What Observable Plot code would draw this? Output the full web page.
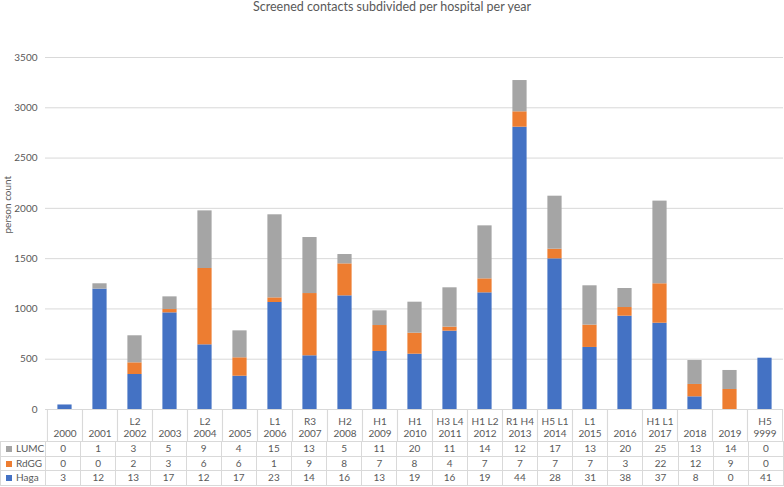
<!DOCTYPE html>
<html>
<head>
<meta charset="utf-8">
<script src="https://cdn.jsdelivr.net/npm/d3@7"></script>
<script src="https://cdn.jsdelivr.net/npm/@observablehq/plot@0.6"></script>
<style>
  html, body { margin: 0; padding: 0; background: #fff; }
  #wrap { position: relative; width: 784px; height: 487px; overflow: hidden; font-family: Lato, "Open Sans", sans-serif; color: #595959; }
  #title { height: 26px; font-size: 12.5px; line-height: 14px; text-align: center; position: relative; top: 0; }
  #chart { position: absolute; left: 0; top: 26px; }
  #tbl { position: absolute; left: 0; top: 441px; }
  table { border-collapse: collapse; table-layout: fixed; width: 783px; font-size: 10px; color: #595959; }
  td { border: 1px solid #d9d9d9; padding: 0; height: 13.6px; line-height: 13px; text-align: center; white-space: nowrap; overflow: hidden; }
  td.leg { text-align: left; padding-left: 5px; }
  .sq { display: inline-block; width: 6px; height: 6px; margin-right: 4px; vertical-align: 0px; }
</style>
</head>
<body>
<div id="wrap">
  <div id="title"></div>
  <div id="chart"></div>
  <div id="tbl"></div>
</div>
<script>
const titleText = "Screened contacts subdivided per hospital per year";
const yLabel = "person count";
const years = ["2000","2001","2002","2003","2004","2005","2006","2007","2008","2009","2010","2011","2012","2013","2014","2015","2016","2017","2018","2019","9999"];
const codes = ["","","L2","","L2","","L1","R3","H2","H1","H1","H3 L4","H1 L2","R1 H4","H5 L1","L1","","H1 L1","","","H5"];
const hospitals = ["Haga","RdGG","LUMC"];
const colors = ["#4472C4","#ED7D31","#A5A5A5"];
// person counts (bar segments)
const hagaCount = [45,1197,348,961,643,331,1064,534,1130,577,550,779,1160,2807,1498,617,928,858,126,0,510];
const rdggCount = [0,0,116,33,759,183,46,619,318,258,209,40,139,153,96,222,86,392,123,199,0];
const lumcCount = [0,53,269,126,573,268,826,557,93,146,308,391,527,311,527,391,189,822,238,189,0];
// data table values
const tableLUMC = [0,1,3,5,9,4,15,13,5,11,20,11,14,12,17,13,20,25,13,14,0];
const tableRdGG = [0,0,2,3,6,6,1,9,8,7,8,4,7,7,7,7,3,22,12,9,0];
const tableHaga = [3,12,13,17,12,17,23,14,16,13,19,16,19,44,28,31,38,37,8,0,41];
const yTicks = [0,500,1000,1500,2000,2500,3000,3500];

document.getElementById("title").textContent = titleText;

const series = {Haga: hagaCount, RdGG: rdggCount, LUMC: lumcCount};
const rows = [];
years.forEach((y, i) => hospitals.forEach(h => rows.push({year: y, hospital: h, value: series[h][i]})));

const W = 784, mL = 45, mR = 1;
const bw = (W - mL - mR) / years.length;
const label = new Map(years.map((y, i) => [y, (codes[i] || "") + "\n" + y]));
const gridC = "#d9d9d9";

const chart = Plot.plot({
  width: W, height: 415,
  marginTop: 31, marginBottom: 32, marginLeft: mL, marginRight: mR,
  style: {fontFamily: "Lato, 'Open Sans', sans-serif", fontSize: "10px", color: "#595959", background: "white", overflow: "visible"},
  x: {domain: years, padding: 0, label: null},
  y: {domain: [0, 3500], label: null},
  color: {domain: hospitals, range: colors},
  marks: [
    Plot.gridY(yTicks, {stroke: gridC, strokeOpacity: 1}),
    Plot.axisY(yTicks, {tickSize: 0, tickPadding: 8, label: null, fill: "#595959", tickFormat: d => String(d)}),
    Plot.barY(rows, {x: "year", y: "value", fill: "hospital", insetLeft: 10.4, insetRight: 10.4}),
    Plot.ruleY([0], {stroke: gridC, strokeOpacity: 1}),
    Plot.axisX({tickSize: 0, tickPadding: 6, lineHeight: 1.27, label: null, tickFormat: d => label.get(d), fill: "#595959"}),
    Plot.axisX({tickSize: 32, tickFormat: () => "", dx: -bw / 2, stroke: gridC, strokeOpacity: 1, label: null}),
    Plot.axisX({tickSize: 32, tickFormat: () => "", dx: bw / 2, stroke: gridC, strokeOpacity: 1, label: null}),
    Plot.text([yLabel], {frameAnchor: "left", dx: -38, rotate: -90, fill: "#595959", fontSize: 10})
  ]
});
document.getElementById("chart").appendChild(chart);

// data table below the axis
const table = document.createElement("table");
const cg = document.createElement("colgroup");
const c0 = document.createElement("col"); c0.style.width = mL + "px"; cg.appendChild(c0);
years.forEach(() => { const c = document.createElement("col"); c.style.width = bw + "px"; cg.appendChild(c); });
table.appendChild(cg);
const tableRows = [["LUMC", tableLUMC, colors[2]], ["RdGG", tableRdGG, colors[1]], ["Haga", tableHaga, colors[0]]];
tableRows.forEach(([name, vals, col]) => {
  const tr = document.createElement("tr");
  const th = document.createElement("td");
  th.className = "leg";
  th.innerHTML = `<span class="sq" style="background:${col}"></span>${name}`;
  tr.appendChild(th);
  vals.forEach(v => { const td = document.createElement("td"); td.textContent = v; tr.appendChild(td); });
  table.appendChild(tr);
});
document.getElementById("tbl").appendChild(table);
</script>
</body>
</html>
